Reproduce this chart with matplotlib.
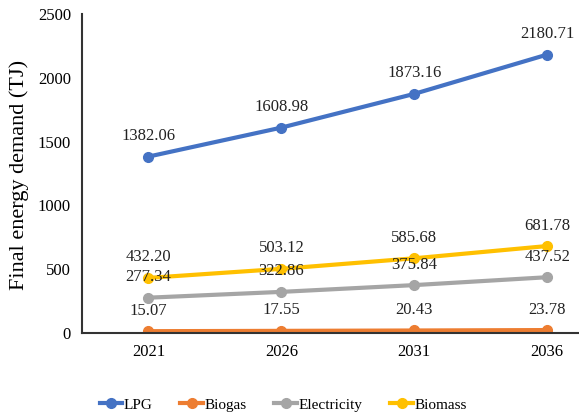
import matplotlib.pyplot as plt

years = ['2021', '2026', '2031', '2036']
lpg = [1382.06, 1608.98, 1873.16, 2180.71]
biogas = [15.07, 17.55, 20.43, 23.78]
electricity = [277.34, 322.86, 375.84, 437.52]
biomass = [432.20, 503.12, 585.68, 681.78]

series = [
    ('LPG', lpg, '#4472C4'),
    ('Biogas', biogas, '#ED7D31'),
    ('Electricity', electricity, '#A5A5A5'),
    ('Biomass', biomass, '#FFC000'),
]

plt.rcParams['font.family'] = ['Liberation Serif', 'DejaVu Serif']

fig = plt.figure(figsize=(5.79, 4.19), dpi=100)
ax = fig.add_axes([0.1416, 0.205, 0.8584, 0.762])

x = range(len(years))
for name, vals, color in series:
    ax.plot(x, vals, color=color, lw=3.0, marker='o', markersize=7, label=name)
    for xi, v in zip(x, vals):
        ax.annotate(f'{v:.2f}', (xi, v), xytext=(0, 9), textcoords='offset points',
                    ha='center', va='bottom', fontsize=12, color='#222222')

ax.set_xlim(-0.5, 3.24)
ax.set_ylim(0, 2500)
ax.set_yticks([0, 500, 1000, 1500, 2000, 2500])
ax.set_xticks(list(x))
ax.set_xticklabels(years)
ax.tick_params(length=0, labelsize=12, pad=8)
ax.set_ylabel('Final energy demand (TJ)', fontsize=16)
ax.yaxis.set_label_coords(-0.107, 0.495)

for s in ['top', 'right']:
    ax.spines[s].set_visible(False)
for s in ['left', 'bottom']:
    ax.spines[s].set_color('#333333')
    ax.spines[s].set_linewidth(1.5)

ax.legend(loc='center', bbox_to_anchor=(0.405, -0.225), ncol=4, frameon=False,
          fontsize=11, handlelength=1.5, columnspacing=1.8, handletextpad=0.1)

fig.savefig('out.png', dpi=100)
